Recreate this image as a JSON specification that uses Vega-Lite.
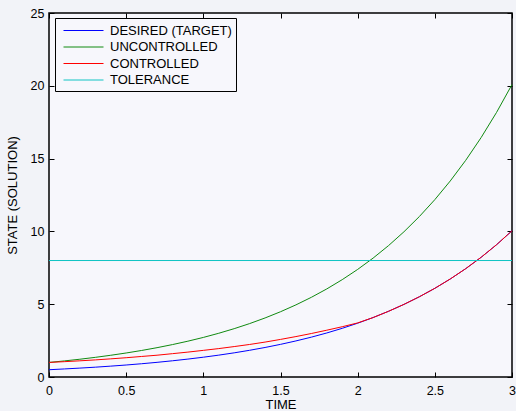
{
  "$schema": "https://vega.github.io/schema/vega-lite/v6.json",
  "width": 463,
  "height": 364,
  "autosize": "none",
  "padding": {"left": 49, "top": 13, "right": 4, "bottom": 34},
  "background": "#f2f3f8",
  "config": {
    "view": {"fill": "#f7f7fc", "stroke": "#000", "strokeWidth": 1.5},
    "font": "Liberation Sans"
  },
  "resolve": {"axis": {"x": "independent", "y": "independent"}},
  "data": {"values": [
    {"series": "DESIRED (TARGET)", "t": 0.0, "v": 0.5},
    {"series": "DESIRED (TARGET)", "t": 0.1, "v": 0.553},
    {"series": "DESIRED (TARGET)", "t": 0.2, "v": 0.611},
    {"series": "DESIRED (TARGET)", "t": 0.3, "v": 0.675},
    {"series": "DESIRED (TARGET)", "t": 0.4, "v": 0.746},
    {"series": "DESIRED (TARGET)", "t": 0.5, "v": 0.824},
    {"series": "DESIRED (TARGET)", "t": 0.6, "v": 0.911},
    {"series": "DESIRED (TARGET)", "t": 0.7, "v": 1.007},
    {"series": "DESIRED (TARGET)", "t": 0.8, "v": 1.113},
    {"series": "DESIRED (TARGET)", "t": 0.9, "v": 1.23},
    {"series": "DESIRED (TARGET)", "t": 1.0, "v": 1.359},
    {"series": "DESIRED (TARGET)", "t": 1.1, "v": 1.502},
    {"series": "DESIRED (TARGET)", "t": 1.2, "v": 1.66},
    {"series": "DESIRED (TARGET)", "t": 1.3, "v": 1.835},
    {"series": "DESIRED (TARGET)", "t": 1.4, "v": 2.028},
    {"series": "DESIRED (TARGET)", "t": 1.5, "v": 2.241},
    {"series": "DESIRED (TARGET)", "t": 1.6, "v": 2.477},
    {"series": "DESIRED (TARGET)", "t": 1.7, "v": 2.737},
    {"series": "DESIRED (TARGET)", "t": 1.8, "v": 3.025},
    {"series": "DESIRED (TARGET)", "t": 1.9, "v": 3.343},
    {"series": "DESIRED (TARGET)", "t": 2.0, "v": 3.695},
    {"series": "DESIRED (TARGET)", "t": 2.1, "v": 4.083},
    {"series": "DESIRED (TARGET)", "t": 2.2, "v": 4.513},
    {"series": "DESIRED (TARGET)", "t": 2.3, "v": 4.987},
    {"series": "DESIRED (TARGET)", "t": 2.4, "v": 5.512},
    {"series": "DESIRED (TARGET)", "t": 2.5, "v": 6.091},
    {"series": "DESIRED (TARGET)", "t": 2.6, "v": 6.732},
    {"series": "DESIRED (TARGET)", "t": 2.7, "v": 7.44},
    {"series": "DESIRED (TARGET)", "t": 2.8, "v": 8.222},
    {"series": "DESIRED (TARGET)", "t": 2.9, "v": 9.087},
    {"series": "DESIRED (TARGET)", "t": 3.0, "v": 10.043},
    {"series": "UNCONTROLLED", "t": 0.0, "v": 1.0},
    {"series": "UNCONTROLLED", "t": 0.1, "v": 1.105},
    {"series": "UNCONTROLLED", "t": 0.2, "v": 1.221},
    {"series": "UNCONTROLLED", "t": 0.3, "v": 1.35},
    {"series": "UNCONTROLLED", "t": 0.4, "v": 1.492},
    {"series": "UNCONTROLLED", "t": 0.5, "v": 1.649},
    {"series": "UNCONTROLLED", "t": 0.6, "v": 1.822},
    {"series": "UNCONTROLLED", "t": 0.7, "v": 2.014},
    {"series": "UNCONTROLLED", "t": 0.8, "v": 2.226},
    {"series": "UNCONTROLLED", "t": 0.9, "v": 2.46},
    {"series": "UNCONTROLLED", "t": 1.0, "v": 2.718},
    {"series": "UNCONTROLLED", "t": 1.1, "v": 3.004},
    {"series": "UNCONTROLLED", "t": 1.2, "v": 3.32},
    {"series": "UNCONTROLLED", "t": 1.3, "v": 3.669},
    {"series": "UNCONTROLLED", "t": 1.4, "v": 4.055},
    {"series": "UNCONTROLLED", "t": 1.5, "v": 4.482},
    {"series": "UNCONTROLLED", "t": 1.6, "v": 4.953},
    {"series": "UNCONTROLLED", "t": 1.7, "v": 5.474},
    {"series": "UNCONTROLLED", "t": 1.8, "v": 6.05},
    {"series": "UNCONTROLLED", "t": 1.9, "v": 6.686},
    {"series": "UNCONTROLLED", "t": 2.0, "v": 7.389},
    {"series": "UNCONTROLLED", "t": 2.1, "v": 8.166},
    {"series": "UNCONTROLLED", "t": 2.2, "v": 9.025},
    {"series": "UNCONTROLLED", "t": 2.3, "v": 9.974},
    {"series": "UNCONTROLLED", "t": 2.4, "v": 11.023},
    {"series": "UNCONTROLLED", "t": 2.5, "v": 12.182},
    {"series": "UNCONTROLLED", "t": 2.6, "v": 13.464},
    {"series": "UNCONTROLLED", "t": 2.7, "v": 14.88},
    {"series": "UNCONTROLLED", "t": 2.8, "v": 16.445},
    {"series": "UNCONTROLLED", "t": 2.9, "v": 18.174},
    {"series": "UNCONTROLLED", "t": 3.0, "v": 20.086},
    {"series": "CONTROLLED", "t": 0.0, "v": 1.0},
    {"series": "CONTROLLED", "t": 0.1, "v": 1.053},
    {"series": "CONTROLLED", "t": 0.2, "v": 1.111},
    {"series": "CONTROLLED", "t": 0.3, "v": 1.175},
    {"series": "CONTROLLED", "t": 0.4, "v": 1.246},
    {"series": "CONTROLLED", "t": 0.5, "v": 1.324},
    {"series": "CONTROLLED", "t": 0.6, "v": 1.411},
    {"series": "CONTROLLED", "t": 0.7, "v": 1.497},
    {"series": "CONTROLLED", "t": 0.8, "v": 1.603},
    {"series": "CONTROLLED", "t": 0.9, "v": 1.71},
    {"series": "CONTROLLED", "t": 1.0, "v": 1.829},
    {"series": "CONTROLLED", "t": 1.1, "v": 1.952},
    {"series": "CONTROLLED", "t": 1.2, "v": 2.09},
    {"series": "CONTROLLED", "t": 1.3, "v": 2.235},
    {"series": "CONTROLLED", "t": 1.4, "v": 2.398},
    {"series": "CONTROLLED", "t": 1.5, "v": 2.581},
    {"series": "CONTROLLED", "t": 1.6, "v": 2.777},
    {"series": "CONTROLLED", "t": 1.7, "v": 2.987},
    {"series": "CONTROLLED", "t": 1.8, "v": 3.215},
    {"series": "CONTROLLED", "t": 1.9, "v": 3.453},
    {"series": "CONTROLLED", "t": 2.0, "v": 3.715},
    {"series": "CONTROLLED", "t": 2.1, "v": 4.083},
    {"series": "CONTROLLED", "t": 2.2, "v": 4.513},
    {"series": "CONTROLLED", "t": 2.3, "v": 4.987},
    {"series": "CONTROLLED", "t": 2.4, "v": 5.512},
    {"series": "CONTROLLED", "t": 2.5, "v": 6.091},
    {"series": "CONTROLLED", "t": 2.6, "v": 6.732},
    {"series": "CONTROLLED", "t": 2.7, "v": 7.44},
    {"series": "CONTROLLED", "t": 2.8, "v": 8.222},
    {"series": "CONTROLLED", "t": 2.9, "v": 9.087},
    {"series": "CONTROLLED", "t": 3.0, "v": 10.043},
    {"series": "TOLERANCE", "t": 0.0, "v": 8},
    {"series": "TOLERANCE", "t": 3.0, "v": 8}
  ]},
  "layer": [
    {
      "mark": {"type": "line", "strokeWidth": 1},
      "encoding": {
        "x": {
          "field": "t", "type": "quantitative",
          "scale": {"domain": [0, 3], "nice": false, "zero": false},
          "axis": {
            "orient": "bottom",
            "title": "TIME", "values": [0, 0.5, 1, 1.5, 2, 2.5, 3], "format": "~g",
            "tickSize": -5, "tickColor": "#000", "domain": false, "grid": false,
            "labelFontSize": 12.5, "labelColor": "#000", "labelPadding": 12,
            "labelFlush": false, "labelOverlap": false,
            "titleFontSize": 13, "titleFontWeight": "normal", "titleColor": "#000", "titlePadding": 2
          }
        },
        "y": {
          "field": "v", "type": "quantitative",
          "scale": {"domain": [0, 25], "nice": false},
          "axis": {
            "orient": "left",
            "title": "STATE (SOLUTION)", "values": [0, 5, 10, 15, 20, 25],
            "tickSize": -5, "tickColor": "#000", "domain": false, "grid": false,
            "labelFontSize": 12.5, "labelColor": "#000", "labelPadding": 10,
            "labelFlush": false, "labelOverlap": false,
            "titleFontSize": 13, "titleFontWeight": "normal", "titleColor": "#000", "titlePadding": 11
          }
        },
        "color": {
          "field": "series", "type": "nominal",
          "scale": {
            "domain": ["DESIRED (TARGET)", "UNCONTROLLED", "CONTROLLED", "TOLERANCE"],
            "range": ["#0000ff", "#108a10", "#ff0000", "#10c4c4"]
          },
          "legend": {
            "orient": "none", "legendX": 6, "legendY": 5, "title": null,
            "symbolType": "M-2.5,0L2.5,0", "symbolSize": 256, "symbolStrokeWidth": 1,
            "labelFontSize": 13, "labelColor": "#000", "labelOffset": 18,
            "strokeColor": "#000", "fillColor": "#f7f7fc",
            "padding": 4, "symbolOffset": 16, "rowPadding": 0.5
          }
        }
      }
    },
    {
      "mark": {"type": "point", "opacity": 0},
      "encoding": {
        "x": {
          "field": "t", "type": "quantitative",
          "axis": {
            "orient": "top", "title": null, "values": [0, 0.5, 1, 1.5, 2, 2.5, 3],
            "labels": false, "tickSize": -5, "tickColor": "#000", "domain": false, "grid": false
          }
        },
        "y": {
          "field": "v", "type": "quantitative",
          "axis": {
            "orient": "right", "title": null, "values": [0, 5, 10, 15, 20, 25],
            "labels": false, "tickSize": -5, "tickColor": "#000", "domain": false, "grid": false
          }
        }
      }
    }
  ]
}
